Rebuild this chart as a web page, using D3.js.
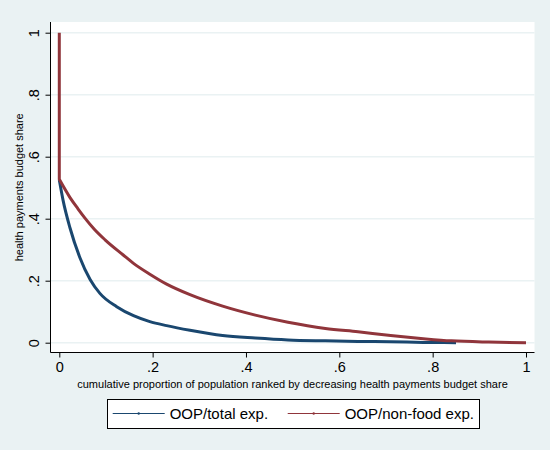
<!DOCTYPE html>
<html>
<head>
<meta charset="utf-8">
<script src="https://cdn.jsdelivr.net/npm/d3@7"></script>
<style>
  body { margin: 0; background: #eaf2f3; }
  svg { display: block; font-family: "Liberation Sans", Arial, sans-serif; }
</style>
</head>
<body>
<svg id="svgRoot" width="550" height="450"></svg>
<script>
// data
const pTotal = [0, 0.008, 0.023, 0.044, 0.066, 0.087, 0.123, 0.159, 0.194, 0.23, 0.28, 0.35, 0.42, 0.49, 0.57, 0.64, 0.71, 0.78, 0.85]
const shareTotal = [0.525, 0.46, 0.37, 0.275, 0.204, 0.159, 0.116, 0.087, 0.068, 0.055, 0.040, 0.023, 0.015, 0.009, 0.006, 0.004, 0.003, 0.001, 0]

// first point is the spike at p = 0
const pNonFood = [0, 0, 0.023, 0.04, 0.055, 0.075, 0.098, 0.137, 0.159, 0.194, 0.23, 0.28, 0.35, 0.42, 0.49, 0.57, 0.64, 0.71, 0.78, 0.84, 0.92, 1]
const shareNonFood = [1, 0.527, 0.468, 0.432, 0.402, 0.366, 0.332, 0.283, 0.256, 0.221, 0.189, 0.155, 0.118, 0.089, 0.066, 0.046, 0.035, 0.023, 0.013, 0.006, 0.002, 0]

const xTicks = [0, 0.2, 0.4, 0.6, 0.8, 1]
const yTicks = [0, 0.2, 0.4, 0.6, 0.8, 1]
const seriesNames = ["OOP/total exp.", "OOP/non-food exp."]
const seriesColors = ["#1a476f", "#90353b"]

const fmt = (d) => d === 0 ? "0" : d === 1 ? "1" : d3.format(".1f")(d).replace(/^0/, "")

function draw_vis() {
  let svg = d3.select("#svgRoot")

  const plot = { left: 50.5, top: 22, right: 534.5, bottom: 352.5 }

  let scale_x = d3.scaleLinear().domain([0, 1]).range([59.3, 526])
  let scale_y = d3.scaleLinear().domain([0, 1]).range([342.7, 32.7])

  // plot region
  svg.append("rect")
    .attr("x", plot.left).attr("y", plot.top)
    .attr("width", plot.right - plot.left).attr("height", plot.bottom - plot.top)
    .attr("fill", "#ffffff")

  // gridlines
  svg.append("g").selectAll("line").data(yTicks).enter().append("line")
    .attr("x1", plot.left).attr("x2", plot.right)
    .attr("y1", (d) => scale_y(d)).attr("y2", (d) => scale_y(d))
    .attr("stroke", "#eaf2f3").attr("stroke-width", 1.5)

  // lines
  let line = d3.line()
    .x((d) => scale_x(d[0]))
    .y((d) => scale_y(d[1]))
    .curve(d3.curveMonotoneX)

  let series = [
    d3.zip(pTotal, shareTotal),
    d3.zip(pNonFood, shareNonFood)
  ]

  // vertical spike drawn straight, the rest smoothed
  function pathFor(pts) {
    if (pts[0][0] === pts[1][0]) {
      return "M" + scale_x(pts[0][0]) + "," + scale_y(pts[0][1]) + "L" + line(pts.slice(1)).slice(1)
    }
    return line(pts)
  }

  svg.append("g").selectAll("path").data(series).enter().append("path")
    .attr("d", pathFor)
    .attr("fill", "none")
    .attr("stroke", (d, i) => seriesColors[i])
    .attr("stroke-width", 3)
    .attr("stroke-linejoin", "round")

  // axes
  let g_xAxis = svg.append("g")
    .attr("transform", "translate(0," + plot.bottom + ")")
    .call(d3.axisBottom(scale_x).tickValues(xTicks).tickFormat(fmt).tickSize(5).tickPadding(4))
  g_xAxis.select(".domain").attr("d", "M" + plot.left + ",0H" + plot.right).attr("stroke", "#000")
  g_xAxis.selectAll("text").attr("font-size", 14.5).attr("fill", "#000").attr("font-family", null)

  let g_yAxis = svg.append("g")
    .attr("transform", "translate(" + plot.left + ",0)")
    .call(d3.axisLeft(scale_y).tickValues(yTicks).tickFormat(fmt).tickSize(5))
  g_yAxis.select(".domain").attr("d", "M0," + plot.top + "V" + plot.bottom).attr("stroke", "#000")
  g_yAxis.selectAll("text")
    .attr("x", null).attr("dy", null)
    .attr("transform", "translate(-12,0) rotate(-90)")
    .attr("text-anchor", "middle")
    .attr("font-size", 14.5).attr("fill", "#000").attr("font-family", null)

  // axis titles
  svg.append("text")
    .attr("x", (plot.left + plot.right) / 2).attr("y", 387.5)
    .attr("text-anchor", "middle").attr("font-size", 11)
    .text("cumulative proportion of population ranked by decreasing health payments budget share")

  svg.append("text")
    .attr("transform", "translate(23," + (plot.top + plot.bottom) / 2 + ") rotate(-90)")
    .attr("text-anchor", "middle").attr("font-size", 11)
    .text("health payments budget share")

  // legend
  let legend = svg.append("g")
  legend.append("rect")
    .attr("x", 107.5).attr("y", 399.5).attr("width", 372).attr("height", 29)
    .attr("fill", "#fff").attr("stroke", "#000").attr("stroke-width", 1)

  let items = legend.selectAll(".item").data(seriesNames).enter().append("g")
    .attr("class", "item")
    .attr("transform", (d, i) => "translate(" + [112.7, 287.7][i] + ",413.5)")
  items.append("line")
    .attr("x1", 0).attr("x2", 52)
    .attr("stroke", (d, i) => seriesColors[i]).attr("stroke-width", 1.2)
  items.append("circle")
    .attr("cx", 26).attr("r", 1.2)
    .attr("fill", (d, i) => seriesColors[i])
  items.append("text")
    .attr("x", 57).attr("y", 5.3)
    .attr("font-size", 15)
    .text((d) => d)
}

draw_vis()
</script>
</body>
</html>
